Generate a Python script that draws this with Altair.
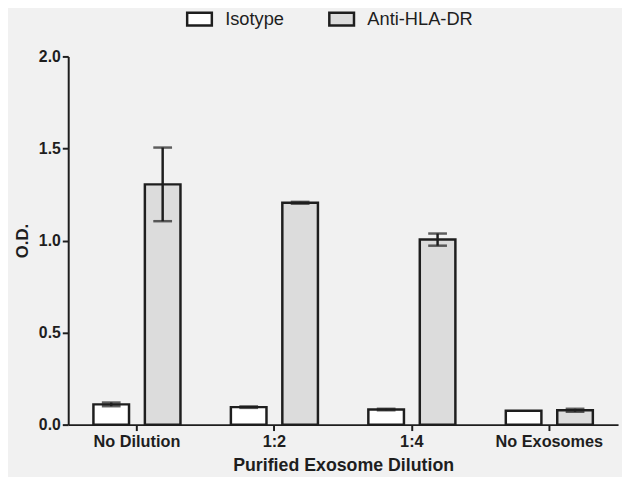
import altair as alt
import pandas as pd

categories = ["No Dilution", "1:2", "1:4", "No Exosomes"]
groups = ["Isotype", "Anti-HLA-DR"]
isotype_mean = [0.11, 0.095, 0.082, 0.075]
isotype_err = [0.010, 0.004, 0.004, 0.0]
anti_mean = [1.305, 1.205, 1.005, 0.078]
anti_err = [0.20, 0.005, 0.033, 0.008]

rows = []
for i, c in enumerate(categories):
    rows.append({"cat": c, "grp": "Isotype", "mean": isotype_mean[i], "err": isotype_err[i]})
    rows.append({"cat": c, "grp": "Anti-HLA-DR", "mean": anti_mean[i], "err": anti_err[i]})
df = pd.DataFrame(rows)
df["lo"] = df["mean"] - df["err"]
df["hi"] = df["mean"] + df["err"]

FONT = "Liberation Sans"
INK = "#1e1e1e"

x_enc = alt.X("cat:N", sort=categories,
              scale=alt.Scale(paddingInner=0, paddingOuter=0),
              axis=alt.Axis(title="Purified Exosome Dilution", labelAngle=0,
                            labelFont=FONT, labelFontSize=16.5, labelFontWeight="bold",
                            labelColor=INK, titleFont=FONT, titleFontSize=18,
                            titleFontWeight="bold", titleColor=INK,
                            domainColor=INK, domainWidth=2, tickColor=INK,
                            tickWidth=2, tickSize=6, labelPadding=3, titlePadding=7))
xo_enc = alt.XOffset("grp:N", sort=groups,
                     scale=alt.Scale(paddingInner=0.308, paddingOuter=0.49))

base = alt.Chart(df)

bars = base.mark_bar(stroke=INK, strokeWidth=2.5).encode(
    x=x_enc,
    xOffset=xo_enc,
    y=alt.Y("mean:Q", scale=alt.Scale(domain=[0, 2]),
            axis=alt.Axis(title="O.D.", values=[0, 0.5, 1.0, 1.5, 2.0], format=".1f",
                          grid=False, labelFont=FONT, labelFontSize=16,
                          labelFontWeight="bold", labelColor=INK,
                          titleFont=FONT, titleFontSize=17, titleFontWeight="bold",
                          titleColor=INK, domainColor=INK, domainWidth=2,
                          tickColor=INK, tickWidth=2, tickSize=6, labelPadding=2,
                          titlePadding=7)),
    fill=alt.Fill("grp:N", sort=groups,
                  scale=alt.Scale(domain=groups, range=["#ffffff", "#dcdcdc"]),
                  legend=alt.Legend(title=None, orient="none", direction="horizontal",
                                    legendX=119, legendY=-52,
                                    symbolType="M-1,-0.52H1V0.52H-1Z", symbolSize=625,
                                    symbolStrokeColor=INK, symbolStrokeWidth=2.5,
                                    labelFont=FONT, labelFontSize=18.5, labelColor=INK,
                                    labelOffset=12, columnPadding=40)),
)

err_df = base.transform_filter("datum.err > 0")

rules = err_df.mark_rule(color=INK, strokeWidth=2.5).encode(
    x=alt.X("cat:N", sort=categories), xOffset=xo_enc,
    y="lo:Q", y2="hi:Q")

caps_hi = err_df.mark_tick(color=INK, thickness=2.5, size=19).encode(
    x=alt.X("cat:N", sort=categories), xOffset=xo_enc, y="hi:Q")
caps_lo = err_df.mark_tick(color=INK, thickness=2.5, size=19).encode(
    x=alt.X("cat:N", sort=categories), xOffset=xo_enc, y="lo:Q")

chart = alt.layer(bars, rules, caps_hi, caps_lo).properties(
    width=557, height=373,
    autosize=alt.AutoSizeParams(type="none"),
    padding={"left": 61, "top": 46, "right": 4, "bottom": 50},
    background="#f1f1f1",
).configure_view(stroke=None)

chart.save("out.html", embed_options={"renderer": "svg", "actions": False})
